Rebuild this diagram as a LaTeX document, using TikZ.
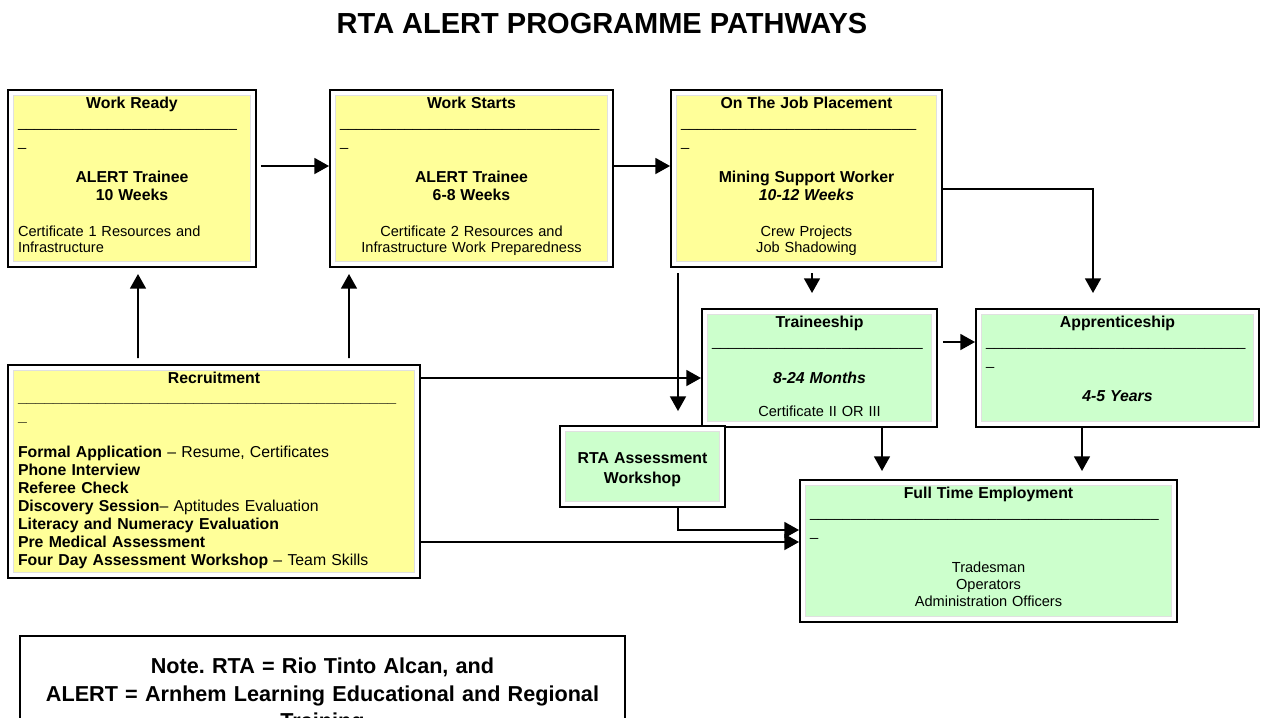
\documentclass[tikz,border=0pt]{standalone}
\usepackage{fontspec}
\setmainfont{Liberation Sans}
\usepackage{xcolor}
\usepackage{tikz}
\usetikzlibrary{arrows.meta}
\frenchspacing

\definecolor{boxyellow}{HTML}{FFFF99}
\definecolor{boxgreen}{HTML}{CCFFCC}

\newcommand{\bodytext}{\fontsize{8.3}{10.2}\selectfont}
\newcommand{\headtext}{\fontsize{9}{10.2}\selectfont\bfseries}
\newcommand{\lft}[1]{\makebox[\linewidth][l]{#1}}
\newcommand{\uscores}[1]{\foreach \i in {1,...,#1}{\_}}

\begin{document}
\begin{tikzpicture}[
    box/.style={rectangle, draw, line width=1.1pt, fill=white,
        inner xsep=0.2cm, inner ysep=0.08cm, text height=8pt,
        align=center, font=\bodytext,
        path picture={\fill[#1, draw=black!12, line width=0.6pt]
            ([shift={(0.11,-0.11)}]path picture bounding box.north west) rectangle
            ([shift={(-0.11,0.11)}]path picture bounding box.south east);}},
    arrow/.style={-{Triangle[width=9pt,length=8.3pt]}, line width=1.1pt}
]
    \useasboundingbox (0,0) rectangle (25.22,-14.34);
    \clip (0,0) rectangle (25.22,-14.34);

    \node[font=\fontsize{16.5}{19}\selectfont\bfseries] (title) at (12.04,-0.48) {RTA ALERT PROGRAMME PATHWAYS};

    % top row
    \node[box=boxyellow, text width=4.56cm, text depth=3.10cm] (wr) at (2.64,-3.57) {
        {\headtext Work Ready}\\[0.6pt]
        \lft{\uscores{27}}\\[1pt]
        \lft{\_}\\[10.4pt]
        {\headtext ALERT Trainee\\ 10 Weeks}\\[10.2pt]
        \lft{Certificate 1 Resources and}\\[-1.1pt]
        \lft{Infrastructure}};
    \node[box=boxyellow, text width=5.26cm, text depth=3.10cm, right of=wr, xshift=5.79cm] (ws) {
        {\headtext Work Starts}\\[0.6pt]
        \lft{\uscores{32}}\\[1pt]
        \lft{\_}\\[10.4pt]
        {\headtext ALERT Trainee\\ 6-8 Weeks}\\[10.2pt]
        Certificate 2 Resources and\\[-1.1pt]
        Infrastructure Work Preparedness};
    \node[box=boxyellow, text width=5.02cm, text depth=3.10cm, right of=ws, xshift=5.70cm] (ojp) {
        {\headtext On The Job Placement}\\[0.6pt]
        \lft{\uscores{29}}\\[1pt]
        \lft{\_}\\[10.4pt]
        {\headtext Mining Support Worker\\ \itshape 10-12 Weeks}\\[10.2pt]
        Crew Projects\\[-1.1pt]
        Job Shadowing};

    % recruitment
    \node[box=boxyellow, text width=7.84cm, text depth=3.82cm, align=left,
        font=\fontsize{9}{10.2}\selectfont] (rec) at (4.28,-9.43) {
        \makebox[\linewidth]{\bfseries Recruitment}\\[0.6pt]
        {\bfseries\uscores{43}}\\[1pt]
        {\bfseries\_}\\[10.4pt]
        \textbf{Formal Application} – Resume, Certificates\\
        \textbf{Phone Interview}\\
        \textbf{Referee Check}\\
        \textbf{Discovery Session}– Aptitudes Evaluation\\
        \textbf{Literacy and Numeracy Evaluation}\\
        \textbf{Pre Medical Assessment}\\
        \textbf{Four Day Assessment Workshop} – Team Skills};

    % green boxes
    \node[box=boxgreen, text width=4.30cm, text depth=1.92cm] (tr) at (16.39,-7.36) {
        {\headtext Traineeship}\\[0.6pt]
        \lft{\uscores{26}}\\[11pt]
        {\headtext\itshape 8-24 Months}\\[8.6pt]
        Certificate II OR III};
    \node[box=boxgreen, text width=5.26cm, text depth=1.92cm] (app) at (22.35,-7.36) {
        {\headtext Apprenticeship}\\[0.6pt]
        \lft{\uscores{32}}\\[1pt]
        \lft{\_}\\[10.4pt]
        {\headtext\itshape 4-5 Years}};
    \node[box=boxgreen, text width=2.90cm, text height=19.3pt, text depth=0.78cm,
        font=\headtext] (rta) at (12.85,-9.33) {RTA Assessment\\[1.1pt] Workshop};
    \node[box=boxgreen, text width=7.14cm, text depth=2.40cm] (fte) at (19.77,-11.02) {
        {\headtext Full Time Employment}\\[0.6pt]
        \lft{\uscores{43}}\\[1pt]
        \lft{\_}\\[10.4pt]
        Tradesman\\[-0.6pt]
        Operators\\[-0.6pt]
        Administration Officers};

    % note
    \node[draw, line width=1pt, anchor=north, text width=11.7cm, inner xsep=0.2cm,
        inner ysep=0pt, text height=21.5pt, text depth=3cm, align=center,
        font=\fontsize{12.3}{15.7}\selectfont\bfseries] (note) at (6.45,-12.7) {
        Note. RTA = Rio Tinto Alcan, and\\
        ALERT = Arnhem Learning Educational and Regional\\
        Training};

    \draw[arrow] ([xshift=0.08cm,yshift=0.25cm]wr.east) -- ([yshift=0.25cm]ws.west);
    \draw[arrow] ([yshift=0.25cm]ws.east) -- ([yshift=0.25cm]ojp.west);
    \draw[arrow] ([yshift=-0.21cm]ojp.east) -| ([xshift=-0.49cm,yshift=0.3cm]app.north);
    \draw[arrow] ([xshift=0.11cm,yshift=-0.1cm]ojp.south) -- ([xshift=-0.15cm,yshift=0.3cm]tr.north);
    \draw[arrow] ([xshift=-2.57cm,yshift=-0.1cm]ojp.south) -- ([xshift=0.71cm,yshift=0.28cm]rta.north);
    \draw[arrow] ([xshift=-1.52cm,yshift=0.12cm]rec.north) -- ([xshift=0.12cm,yshift=-0.12cm]wr.south);
    \draw[arrow] ([xshift=2.7cm,yshift=0.12cm]rec.north) -- ([xshift=-2.45cm,yshift=-0.12cm]ws.south);
    \draw[arrow] ([yshift=1.87cm]rec.east) -- ([yshift=-0.2cm]tr.west);
    \draw[arrow] ([xshift=0.1cm,yshift=0.52cm]tr.east) -- ([yshift=0.52cm]app.west);
    \draw[arrow] ([xshift=1.25cm]tr.south) -- ([xshift=-2.13cm,yshift=0.16cm]fte.north);
    \draw[arrow] ([xshift=-0.71cm]app.south) -- ([xshift=1.87cm,yshift=0.16cm]fte.north);
    \draw[arrow] ([xshift=0.71cm]rta.south) |- ([yshift=0.42cm]fte.west);
    \draw[arrow] ([yshift=-1.41cm]rec.east) -- ([yshift=0.18cm]fte.west);
\end{tikzpicture}
\end{document}
